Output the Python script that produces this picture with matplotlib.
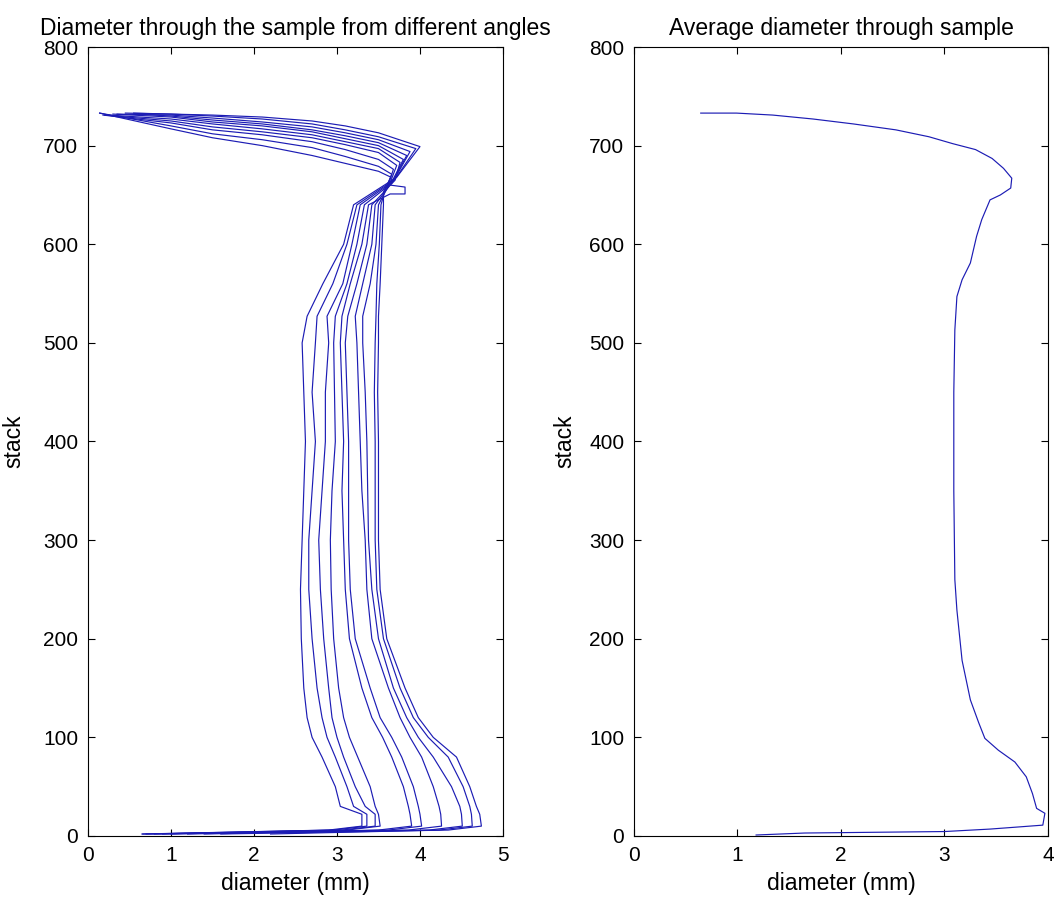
import numpy as np
import matplotlib
matplotlib.use('Agg')
import matplotlib.pyplot as plt

plt.rcParams['font.family'] = ['Liberation Sans', 'DejaVu Sans']
plt.rcParams['font.size'] = 15

# ---- left panel: 10 profiles ----
# top arc: start point, y at a few diameters, then the peak and junction
ARC_X = [1.0, 1.5, 2.1, 2.7, 3.1, 3.5]
arc_start_x = [0.45, 0.55, 0.35, 0.60, 0.30, 0.25, 0.20, 0.18, 0.14, 0.14]
arc_start_y = [733, 733, 732, 732, 732, 731, 731, 731, 733, 733]
arc_y = [
    [732, 732, 731, 730, 729, 727, 725, 723, 720, 717],
    [731, 730, 728, 726, 724, 722, 719, 716, 712, 708],
    [729, 727, 724, 722, 720, 717, 714, 711, 706, 700],
    [725, 722, 719, 716, 714, 711, 708, 704, 698, 690],
    [720, 716, 713, 710, 707, 704, 701, 696, 689, 682],
    [713, 709, 706, 703, 700, 697, 693, 686, 679, 674],
]
peak_x = [4.00, 3.95, 3.88, 3.84, 3.80, 3.76, 3.72, 3.68, 3.66, 3.65]
peak_y = [699, 697, 694, 690, 686, 683, 680, 676, 671, 668]
junc_x = [3.72, 3.70, 3.68, 3.66, 3.64, 3.70, 3.62, 3.60, 3.58, 3.56]
junc_y = [668, 666, 664, 662, 660, 665, 658, 656, 655, 653]
# small step one profile makes just below the junction
notch_curve = 4
notch_x = [3.82, 3.82, 3.64]
notch_y = [658, 651, 651]

# body: diameter of each profile at these stack levels
BODY_LEVELS = [640, 600, 560, 527, 500, 450, 400, 350, 300, 250, 200, 150, 120, 100, 80, 50, 30, 22, 10]
body_x = [
    [3.20, 3.24, 3.28, 3.33, 3.38, 3.42, 3.46, 3.50, 3.53, 3.56],
    [3.08, 3.12, 3.18, 3.24, 3.30, 3.36, 3.42, 3.47, 3.51, 3.54],
    [2.83, 2.95, 3.07, 3.12, 3.16, 3.24, 3.31, 3.40, 3.48, 3.52],
    [2.64, 2.76, 2.88, 2.98, 3.06, 3.13, 3.22, 3.31, 3.47, 3.50],
    [2.58, 2.74, 2.90, 2.96, 3.04, 3.10, 3.24, 3.31, 3.46, 3.50],
    [2.60, 2.70, 2.86, 2.97, 3.06, 3.12, 3.26, 3.34, 3.45, 3.49],
    [2.62, 2.74, 2.86, 2.98, 3.08, 3.14, 3.28, 3.36, 3.46, 3.50],
    [2.60, 2.70, 2.82, 2.94, 3.06, 3.14, 3.30, 3.37, 3.46, 3.50],
    [2.58, 2.66, 2.78, 2.92, 3.08, 3.14, 3.34, 3.38, 3.46, 3.50],
    [2.56, 2.66, 2.80, 2.93, 3.10, 3.16, 3.36, 3.42, 3.48, 3.52],
    [2.57, 2.70, 2.84, 2.96, 3.15, 3.22, 3.42, 3.50, 3.56, 3.60],
    [2.60, 2.76, 2.90, 3.02, 3.30, 3.40, 3.62, 3.68, 3.76, 3.82],
    [2.64, 2.82, 2.94, 3.08, 3.42, 3.52, 3.76, 3.84, 3.92, 3.98],
    [2.70, 2.88, 3.00, 3.15, 3.55, 3.66, 3.88, 3.98, 4.10, 4.16],
    [2.82, 2.98, 3.08, 3.25, 3.66, 3.78, 4.02, 4.16, 4.34, 4.44],
    [2.98, 3.12, 3.22, 3.40, 3.80, 3.92, 4.16, 4.38, 4.52, 4.60],
    [3.04, 3.20, 3.34, 3.46, 3.86, 3.98, 4.23, 4.48, 4.60, 4.68],
    [3.30, 3.36, 3.46, 3.50, 3.88, 4.00, 4.25, 4.50, 4.62, 4.72],
    [3.30, 3.36, 3.46, 3.52, 3.90, 4.02, 4.26, 4.51, 4.63, 4.74],
]
# bottom tail running back to the left
tail_mid_y = 6
tail_end_y = 2
tail_x = [0.65, 0.70, 0.80, 1.00, 1.20, 1.40, 0.66, 0.90, 2.20, 1.60]

# ---- right panel: averaged profile ----
avg_x = [1.18, 1.65, 3.00, 3.44, 3.76, 3.95, 3.97, 3.89, 3.85, 3.79, 3.68, 3.52, 3.39, 3.33,
         3.25, 3.17, 3.12, 3.10, 3.09, 3.09, 3.10, 3.12, 3.17, 3.25, 3.31, 3.36, 3.44, 3.54,
         3.64, 3.65, 3.57, 3.46, 3.30, 3.08, 2.85, 2.53, 2.12, 1.73, 1.34, 0.99, 0.645]
avg_y = [1, 3, 4.5, 7, 9.5, 11, 23, 28, 43, 60, 75, 87, 99, 115,
         138, 178, 229, 260, 350, 450, 513, 547, 564, 581, 608, 625, 645, 650,
         657, 667, 677, 687, 696, 702, 709, 716, 722, 727, 731, 733, 733]

LINE_COLOR = '#1c1cb4'
LABEL_SIZE = 16.5


def style_axes(ax, xmax):
    ax.set_xlim(0, xmax)
    ax.set_ylim(0, 800)
    ax.set_xticks(range(0, xmax + 1))
    ax.set_yticks(range(0, 801, 100))
    ax.tick_params(direction='in', length=5, width=0.8, top=True, right=True, pad=7,
                   labelsize=15)
    for s in ax.spines.values():
        s.set_linewidth(0.8)
    ax.set_xlabel('diameter (mm)', fontsize=LABEL_SIZE, labelpad=5)
    ax.set_ylabel('stack', fontsize=LABEL_SIZE)


def main():
    fig = plt.figure(figsize=(10.54, 8.99), dpi=100)
    ax1 = fig.add_axes([0.0835, 0.0701, 0.3937, 0.8776])
    ax2 = fig.add_axes([0.6015, 0.0701, 0.3928, 0.8776])

    n = len(peak_x)
    for i in range(n):
        xs = [arc_start_x[i]] + ARC_X + [peak_x[i], junc_x[i]]
        ys = [arc_start_y[i]] + [row[i] for row in arc_y] + [peak_y[i], junc_y[i]]
        if i == notch_curve:
            xs += notch_x
            ys += notch_y
        xs += [row[i] for row in body_x]
        ys += BODY_LEVELS
        x_end = body_x[-1][i]
        xs += [x_end - 0.4, tail_x[i]]
        ys += [tail_mid_y, tail_end_y]
        ax1.plot(xs, ys, color=LINE_COLOR, linewidth=0.85)

    style_axes(ax1, 5)
    ax1.set_title('Diameter through the sample from different angles', fontsize=LABEL_SIZE, pad=9)
    ax1.yaxis.set_label_coords(-0.152, 0.5)

    ax2.plot(avg_x, avg_y, color=LINE_COLOR, linewidth=0.85)
    style_axes(ax2, 4)
    ax2.set_title('Average diameter through sample', fontsize=LABEL_SIZE, pad=9)
    ax2.yaxis.set_label_coords(-0.138, 0.5)

    fig.savefig('out.png', dpi=100)
    plt.close(fig)


if __name__ == '__main__':
    main()
